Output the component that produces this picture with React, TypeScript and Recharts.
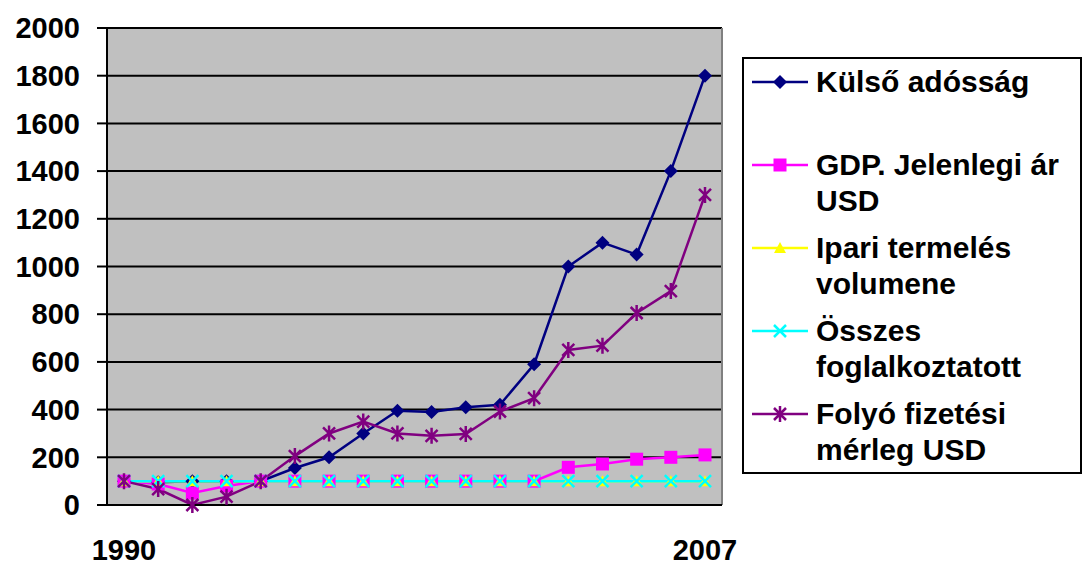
import React from "react";
import {
  LineChart,
  Line,
  XAxis,
  YAxis,
  CartesianGrid,
  Legend,
} from "recharts";

// years on the category axis, only the first and last get a label
const years = [
  "1990", "1991", "1992", "1993", "1994", "1995", "1996", "1997", "1998",
  "1999", "2000", "2001", "2002", "2003", "2004", "2005", "2006", "2007",
];
const labelledYears = ["1990", "2007"];
const yTicks = [0, 200, 400, 600, 800, 1000, 1200, 1400, 1600, 1800, 2000];

const kulsoAdossag = [100, 95, 100, 100, 100, 155, 200, 300, 395, 390, 410, 420, 590, 1000, 1100, 1050, 1400, 1800];
const gdpJelenlegi = [100, 88, 50, 80, 100, 100, 100, 100, 100, 100, 100, 100, 100, 158, 172, 192, 200, 210];
const ipariTermeles = [100, 100, 100, 100, 100, 100, 100, 100, 100, 100, 100, 100, 100, 100, 100, 100, 100, 100];
const osszesFoglalkoztatott = [100, 100, 100, 100, 100, 100, 100, 100, 100, 100, 100, 100, 100, 100, 100, 100, 100, 100];
const folyoFizetesi = [100, 67, 0, 35, 100, 205, 300, 350, 300, 290, 298, 392, 448, 650, 668, 805, 897, 1300];

const series = [
  { key: "kulso", name: "Külső adósság", color: "#000080", marker: "diamond", values: kulsoAdossag },
  { key: "gdp", name: "GDP. Jelenlegi ár USD", color: "#FF00FF", marker: "square", values: gdpJelenlegi },
  { key: "ipari", name: "Ipari termelés volumene", color: "#FFFF00", marker: "triangle", values: ipariTermeles },
  { key: "osszes", name: "Összes foglalkoztatott", color: "#00FFFF", marker: "cross", values: osszesFoglalkoztatott },
  { key: "folyo", name: "Folyó fizetési mérleg USD", color: "#800080", marker: "star", values: folyoFizetesi },
];

const data = years.map((year, i) => {
  const row: Record<string, string | number> = { year };
  series.forEach((s) => {
    row[s.key] = s.values[i];
  });
  return row;
});

const FONT = "'Liberation Sans', Arial, Helvetica, sans-serif";

function markerShape(kind: string, cx: number, cy: number, color: string) {
  switch (kind) {
    case "diamond":
      return (
        <path
          d={`M${cx},${cy - 7}L${cx + 7},${cy}L${cx},${cy + 7}L${cx - 7},${cy}Z`}
          fill={color}
        />
      );
    case "square":
      return <rect x={cx - 6.5} y={cy - 6.5} width={13} height={13} fill={color} />;
    case "triangle":
      return (
        <path
          d={`M${cx},${cy - 6}L${cx + 6},${cy + 5}L${cx - 6},${cy + 5}Z`}
          fill={color}
        />
      );
    case "cross":
      return (
        <path
          d={`M${cx - 6},${cy - 6}L${cx + 6},${cy + 6}M${cx + 6},${cy - 6}L${cx - 6},${cy + 6}`}
          stroke={color}
          strokeWidth={2.5}
          fill="none"
        />
      );
    default:
      return (
        <path
          d={`M${cx - 6},${cy - 6}L${cx + 6},${cy + 6}M${cx + 6},${cy - 6}L${cx - 6},${cy + 6}M${cx},${cy - 8}L${cx},${cy + 8}`}
          stroke={color}
          strokeWidth={2.5}
          fill="none"
        />
      );
  }
}

const XTick = ({ x, y, payload }: any) => {
  if (!labelledYears.includes(payload.value)) return <g />;
  return (
    <text
      x={x}
      y={y + 45}
      dy="0.35em"
      textAnchor="middle"
      fontSize={29}
      fontWeight={700}
      fontFamily={FONT}
      fill="#000"
    >
      {payload.value}
    </text>
  );
};

const renderLegend = () => (
  <div
    style={{
      boxSizing: "border-box",
      width: 340,
      height: 417,
      border: "2px solid #000",
      background: "#fff",
      paddingTop: 5,
      fontFamily: FONT,
      fontWeight: 700,
      fontSize: 30,
      lineHeight: "36px",
      color: "#000",
    }}
  >
    {series.map((s) => (
      <div key={s.key} style={{ display: "flex", height: 83 }}>
        <svg width={56} height={36} style={{ marginLeft: 8, flex: "none" }}>
          <line x1={0} y1={18} x2={56} y2={18} stroke={s.color} strokeWidth={2.5} />
          {markerShape(s.marker, 28, 18, s.color)}
        </svg>
        <div style={{ marginLeft: 8, width: 265 }}>{s.name}</div>
      </div>
    ))}
  </div>
);

export default function App() {
  return (
    <div style={{ position: "absolute", left: 0, top: 0, background: "#fff", fontFamily: FONT }}>
      <LineChart
        width={1082}
        height={565}
        data={data}
        margin={{ top: 28, right: 360, bottom: 0, left: 0 }}
      >
        <CartesianGrid
          vertical={false}
          fill="#C0C0C0"
          fillOpacity={1}
          stroke="#000"
          strokeWidth={2}
          horizontalValues={yTicks}
        />
        {/* grey right-hand border of the plot area */}
        <CartesianGrid
          horizontal={false}
          stroke="#808080"
          strokeWidth={2}
          verticalCoordinatesGenerator={({ offset }: any) => [offset.left + offset.width]}
        />
        <XAxis
          dataKey="year"
          interval={0}
          height={60}
          padding={{ left: 17, right: 17 }}
          tickLine={false}
          tickSize={0}
          tickMargin={0}
          tick={<XTick />}
          axisLine={{ stroke: "#000", strokeWidth: 2 }}
        />
        <YAxis
          domain={[0, 2000]}
          ticks={yTicks}
          width={107}
          tickSize={10}
          tickMargin={17}
          interval={0}
          axisLine={{ stroke: "#000", strokeWidth: 2 }}
          tickLine={{ stroke: "#000", strokeWidth: 2 }}
          tick={{ fontSize: 29, fontWeight: 700, fill: "#000", fontFamily: FONT }}
        />
        <Legend
          layout="vertical"
          align="center"
          verticalAlign="middle"
          wrapperStyle={{ left: 742, top: 57, width: 340, height: 417 }}
          content={renderLegend}
        />
        {series.map((s) => (
          <Line
            key={s.key}
            dataKey={s.key}
            name={s.name}
            type="linear"
            stroke={s.color}
            strokeWidth={2.5}
            isAnimationActive={false}
            dot={(p: any) => (
              <g key={`${s.key}-${p.index}`}>{markerShape(s.marker, p.cx, p.cy, s.color)}</g>
            )}
            activeDot={false}
          />
        ))}
      </LineChart>
    </div>
  );
}
